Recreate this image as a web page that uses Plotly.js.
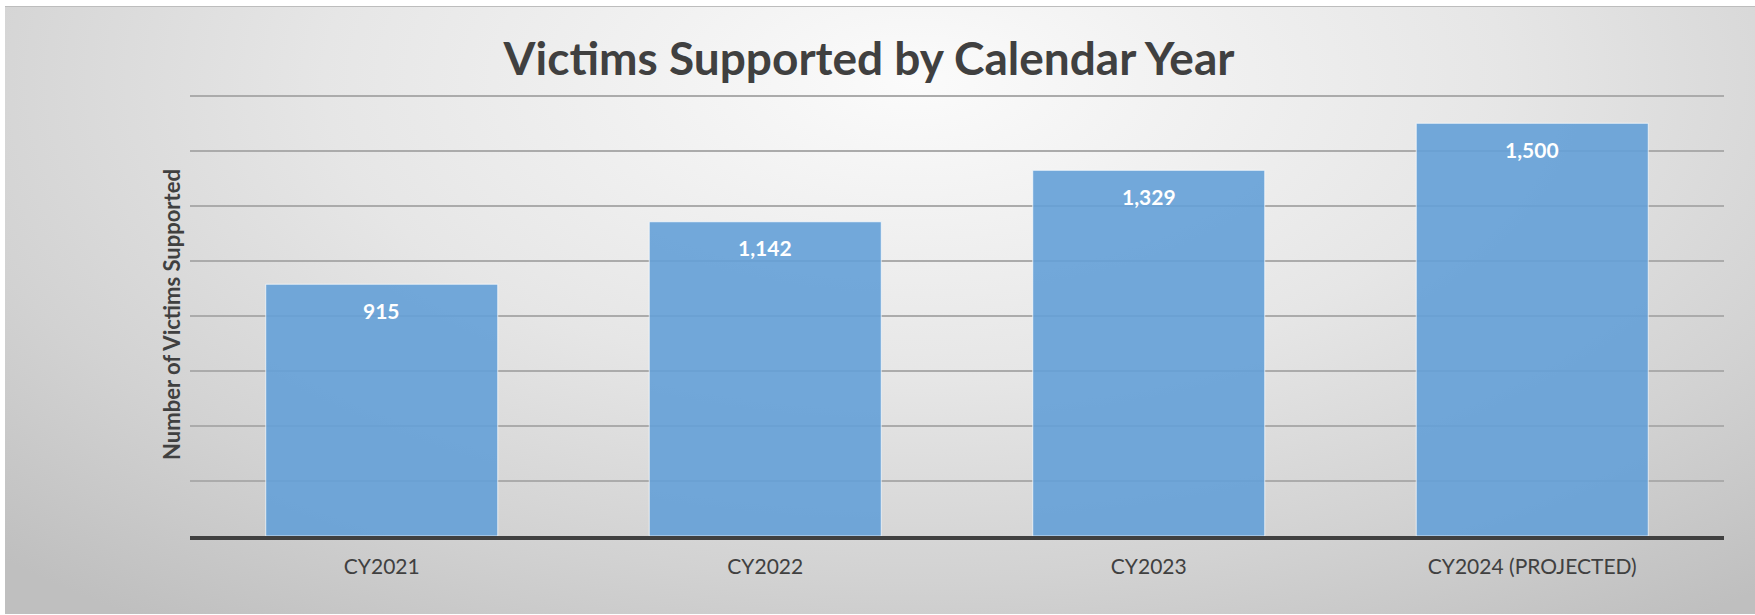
<!DOCTYPE html>
<html>
<head>
<meta charset="utf-8">
<script src="https://cdn.plot.ly/plotly-3.0.1.min.js"></script>
<style>
  html, body { margin: 0; padding: 0; background: #ffffff; width: 1755px; height: 615px; overflow: hidden; }
  #bg { position: absolute; left: 5px; top: 6px; width: 1750px; height: 607px;
        border-top: 1px solid #bdbdbd;
        background: radial-gradient(ellipse 75% 110% at 52% 12%, #fbfbfb 0%, #e6e6e6 45%, #d2d2d2 75%, #bfbfbf 100%); }
  #chart { position: absolute; left: 0; top: 0; width: 1755px; height: 615px; }
</style>
</head>
<body>
<div id="bg"></div>
<div id="chart"></div>
<script>
const categories = ["CY2021", "CY2022", "CY2023", "CY2024 (PROJECTED)"];
const victims = [915, 1142, 1329, 1500];
const labels = victims.map(v => v.toLocaleString("en-US"));

const trace = {
  type: "bar",
  x: categories,
  y: victims,
  marker: { color: "rgba(100,160,215,0.9)", line: { color: "rgba(255,255,255,0.7)", width: 1 } },
  hoverinfo: "skip"
};

const annotations = categories.map((c, i) => ({
  x: c, y: victims[i], xref: "x", yref: "y",
  text: labels[i], showarrow: false, yshift: -26, yanchor: "middle",
  font: { family: "Lato, sans-serif", size: 21, color: "#ffffff", weight: "bold" }
}));

const layout = {
  width: 1755, height: 615,
  margin: { l: 190, r: 31, t: 93, b: 79 },
  paper_bgcolor: "rgba(0,0,0,0)",
  plot_bgcolor: "rgba(0,0,0,0)",
  showlegend: false,
  bargap: 0.395,
  title: {
    text: "<b>Victims Supported by Calendar Year</b>",
    x: 869 / 1755, xanchor: "center", xref: "container",
    y: 1 - 59 / 615, yanchor: "middle", yref: "container",
    font: { family: "Lato, sans-serif", size: 46, color: "#404040" }
  },
  xaxis: {
    type: "category",
    showgrid: false, zeroline: false,
    showline: true, linecolor: "#404040", linewidth: 4,
    ticks: "", ticklabelstandoff: 9,
    tickfont: { family: "Lato, sans-serif", size: 21, color: "#404040" }
  },
  yaxis: {
    range: [0, 1610], dtick: 200, tick0: 0,
    showticklabels: false, ticks: "",
    showgrid: true, gridcolor: "#ababab", gridwidth: 1.5,
    zeroline: false, showline: false,
    title: { text: "<b>Number of Victims Supported</b>", standoff: 2,
             font: { family: "Lato, sans-serif", size: 22, color: "#404040" } }
  },
  annotations: annotations
};

Plotly.newPlot("chart", [trace], layout, { displayModeBar: false, staticPlot: true });
</script>
</body>
</html>
